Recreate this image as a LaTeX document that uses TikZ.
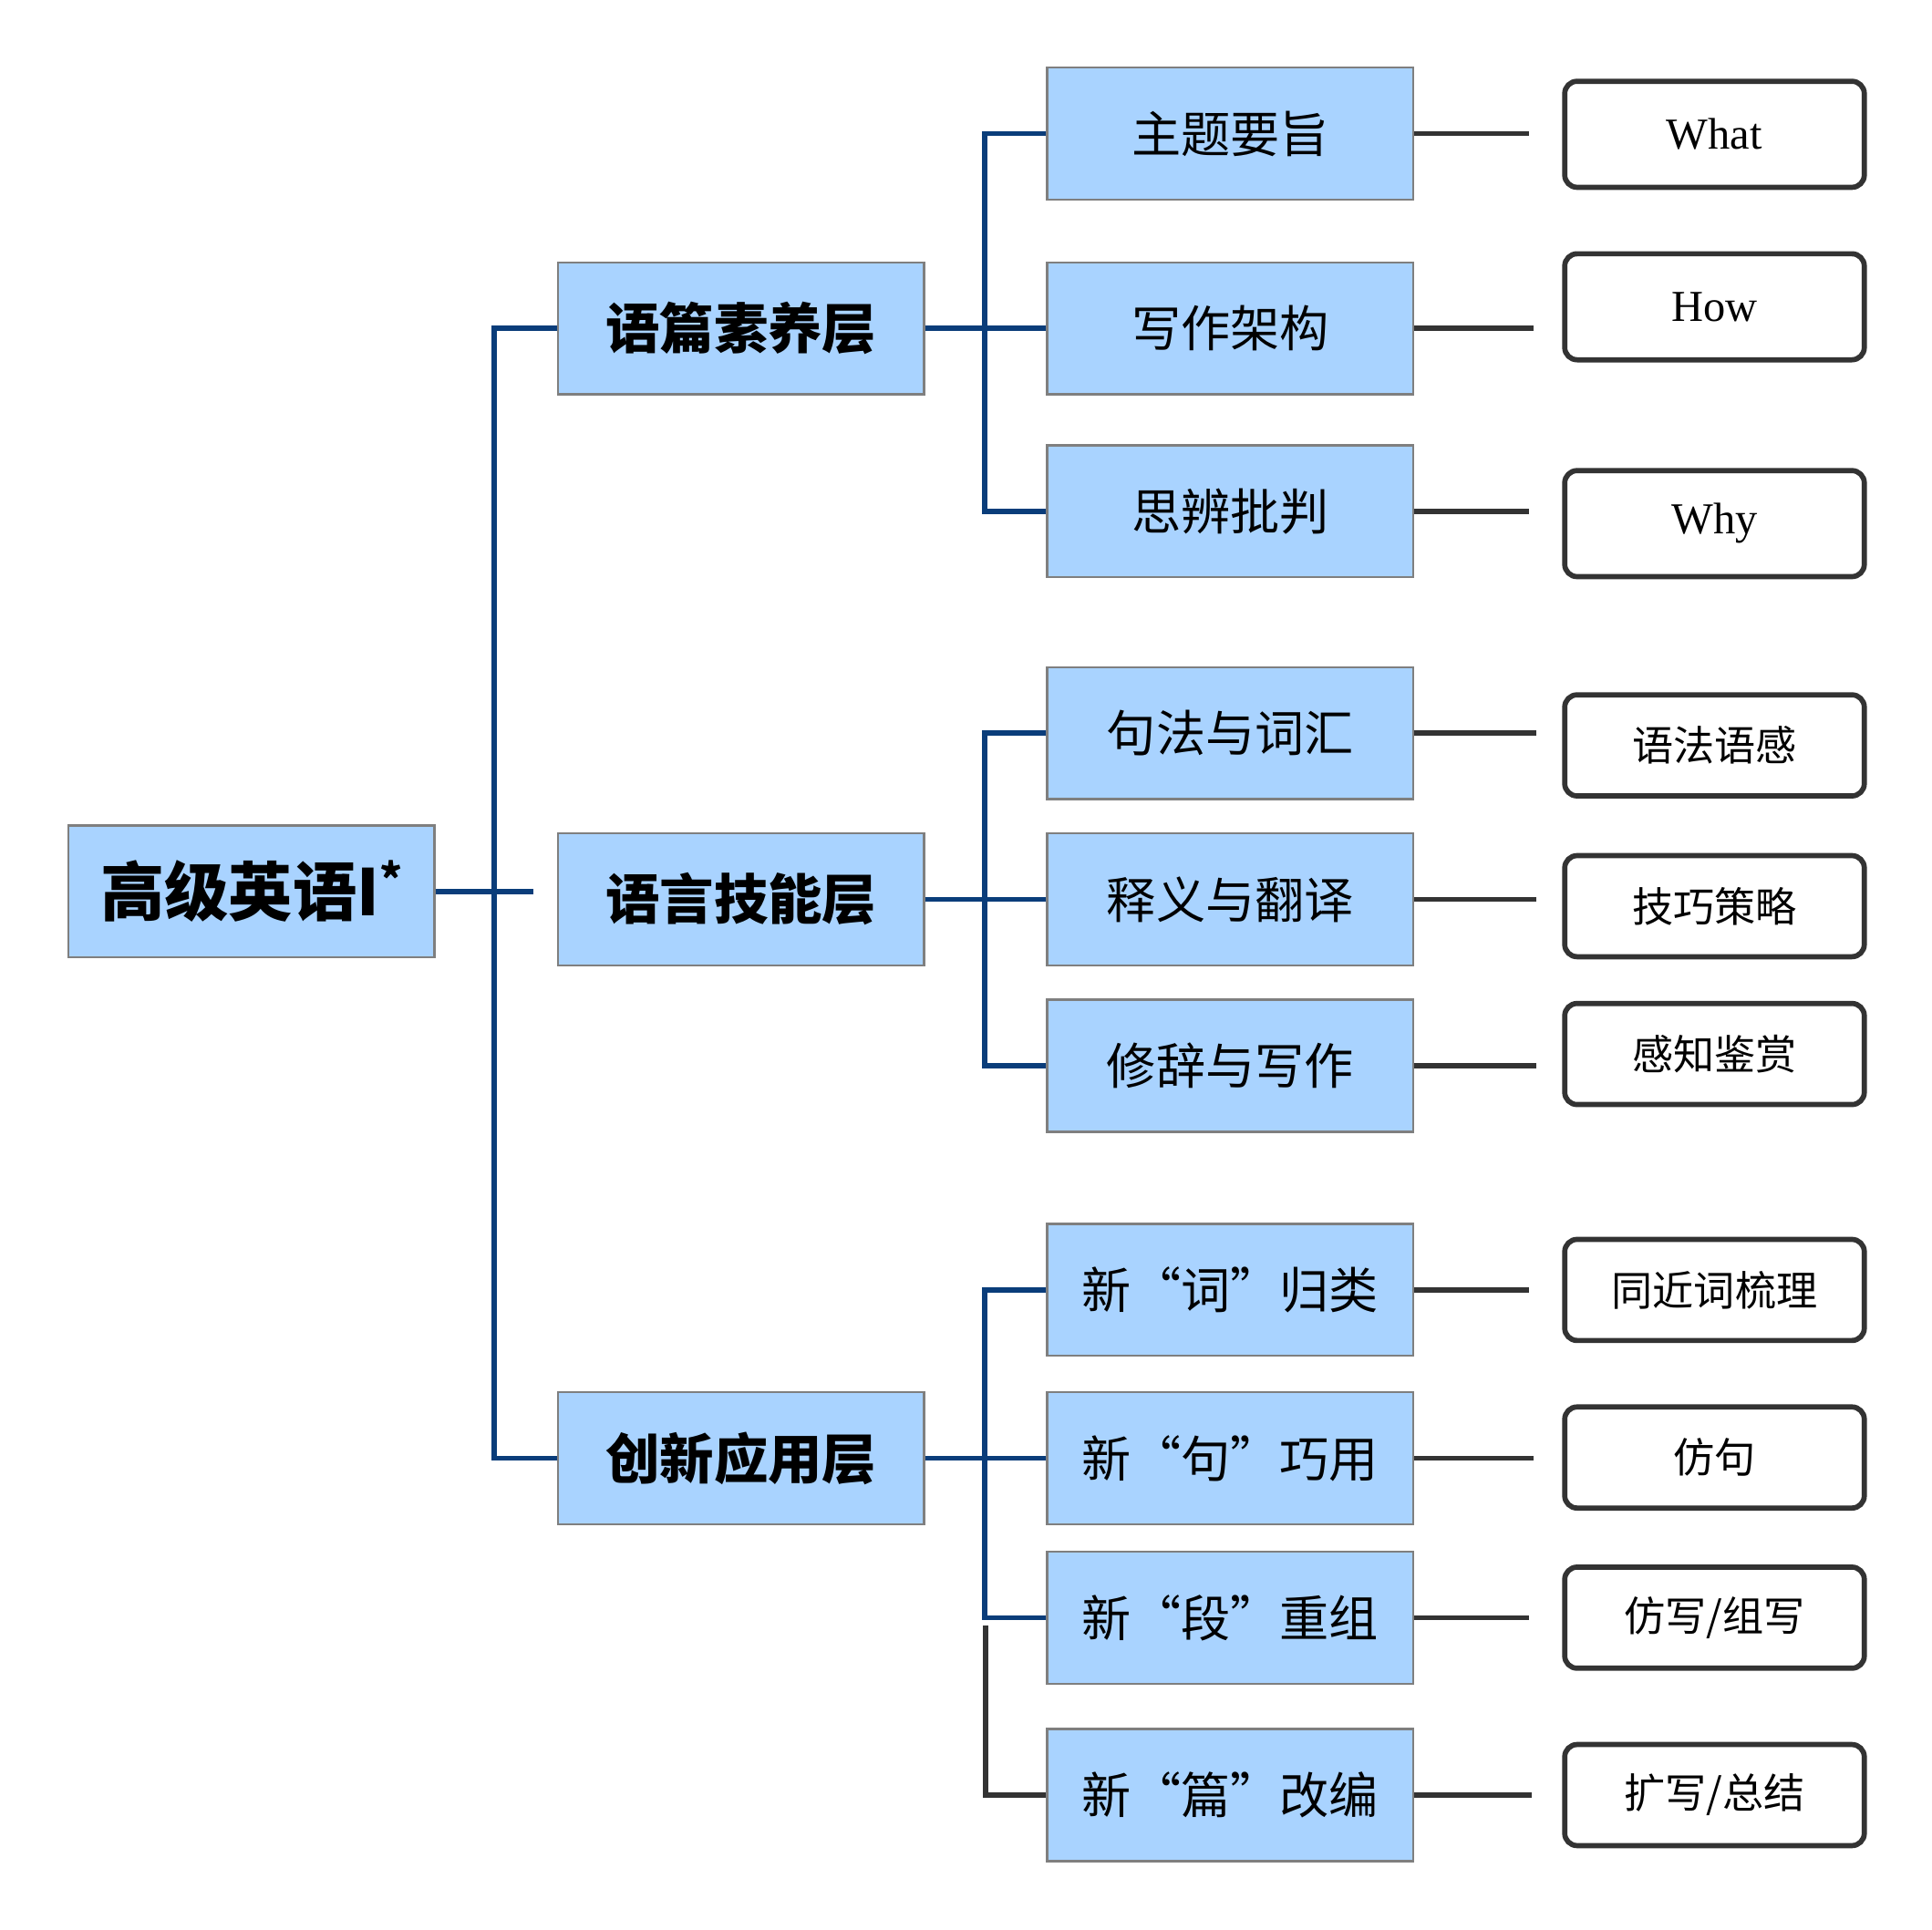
\documentclass[tikz,border=0pt]{standalone}
\usepackage{fontspec}
\newfontfamily\cjk{Noto Sans CJK SC}
\newfontfamily\latinserif{Liberation Serif}
\definecolor{boxblue}{HTML}{A9D3FF}
\definecolor{boxgray}{HTML}{7F7F7F}
\definecolor{linkblue}{HTML}{0A3D7A}
\definecolor{linkgray}{HTML}{333333}

\begin{document}
\begin{tikzpicture}[x=0.01cm,y=-0.01cm,
    topic/.style={draw=boxgray,line width=0.5pt,fill=boxblue,
      minimum width=2.97cm,minimum height=1.07cm,inner sep=0pt},
    rootbox/.style={topic,font=\cjk\bfseries\fontsize{14.8}{16}\selectfont},
    layerbox/.style={topic,font=\cjk\bfseries\fontsize{12.5}{14}\selectfont},
    partbox/.style={topic,font=\cjk\fontsize{11.4}{13}\selectfont},
    leafbox/.style={draw=linkgray,line width=1.2pt,rounded corners=0.1cm,
      fill=white,minimum width=2.43cm,minimum height=0.82cm,inner sep=0pt,
      font=\cjk\fontsize{9.5}{11}\selectfont},
    wordbox/.style={leafbox,minimum height=0.86cm,
      font=\latinserif\fontsize{10.2}{12}\selectfont},
    blueln/.style={draw=linkblue,line width=1.2pt},
    grayln/.style={draw=linkgray,line width=1.2pt}]
  \useasboundingbox (0,0) rectangle (1568,1566);
  % root and layers
  \node[rootbox] (root) at (204,723.5)
    {高级英语I\raisebox{0.32em}{\fontsize{10}{10}\selectfont*}};
  \node[layerbox] (l1) at (601.5,266.5) {语篇素养层};
  \node[layerbox] (l2) at (601.5,730) {语言技能层};
  \node[layerbox] (l3) at (601.5,1183.5) {创新应用层};
  % parts
  \node[partbox] (p1) at (998.5,108.5) {主题要旨};
  \node[partbox] (p2) at (998.5,266.5) {写作架构};
  \node[partbox] (p3) at (998.5,415) {思辨批判};
  \node[partbox] (p4) at (998.5,595) {句法与词汇};
  \node[partbox] (p5) at (998.5,730) {释义与翻译};
  \node[partbox] (p6) at (998.5,865) {修辞与写作};
  \node[partbox] (p7) at (998.5,1047) {新“词”归类};
  \node[partbox] (p8) at (998.5,1183.5) {新“句”巧用};
  \node[partbox] (p9) at (998.5,1313) {新“段”重组};
  \node[partbox] (p10) at (998.5,1457) {新“篇”改编};
  % leaves
  \node[wordbox] (w1) at (1391.5,109) {What};
  \node[wordbox] (w2) at (1391.5,249) {How};
  \node[wordbox] (w3) at (1391.5,425) {Why};
  \node[leafbox] (w4) at (1391.5,605) {语法语感};
  \node[leafbox] (w5) at (1391.5,735.5) {技巧策略};
  \node[leafbox] (w6) at (1391.5,855.5) {感知鉴赏};
  \node[leafbox] (w7) at (1391.5,1047) {同近词梳理};
  \node[leafbox] (w8) at (1391.5,1183) {仿句};
  \node[leafbox] (w9) at (1391.5,1313) {仿写/组写};
  \node[leafbox] (w10) at (1391.5,1457) {扩写/总结};
  % connectors
  \coordinate (rootend) at (433,723.5);
  \draw[blueln] (root.east) -- (rootend);
  \draw[blueln] (l1.west) -- ++(-51,0) |- (l3.west);
  \draw[blueln] (l1.east) -- (p2.west);
  \draw[blueln] (p1.west) -- ++(-50,0) |- (p3.west);
  \draw[blueln] (l2.east) -- (p5.west);
  \draw[blueln] (p4.west) -- ++(-50,0) |- (p6.west);
  \draw[blueln] (l3.east) -- (p8.west);
  \draw[blueln] (p7.west) -- ++(-50,0) |- (p9.west);
  \coordinate (split) at (800,1319);
  \draw[grayln] (split) |- (p10.west);
  \foreach \p/\len in {p1/93,p2/97,p3/93,p4/99,p5/99,p6/99,p7/93,p8/97,p9/93,p10/95}
    \draw[grayln] (\p.east) -- ++(\len,0);
\end{tikzpicture}
\end{document}
